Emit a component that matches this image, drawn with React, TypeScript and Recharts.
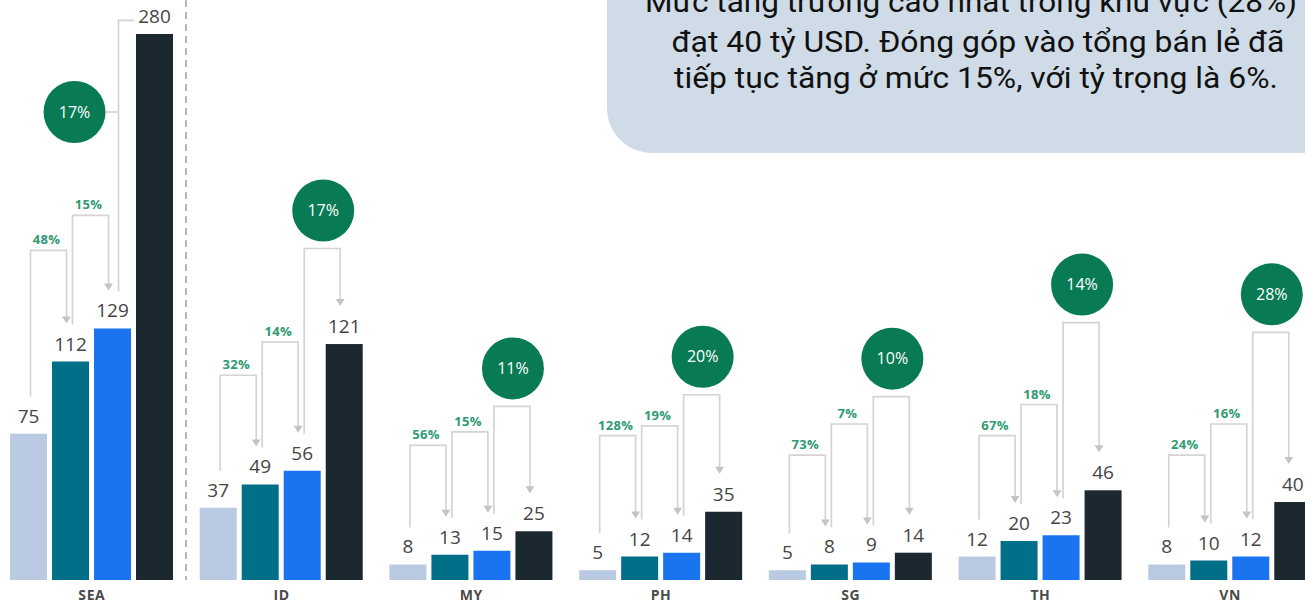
import React from 'react';
import { BarChart, Bar, XAxis, YAxis, LabelList } from 'recharts';

// ---- data ----
const regions = ['SEA', 'ID', 'MY', 'PH', 'SG', 'TH', 'VN'];
const s1 = [75, 37, 8, 5, 5, 12, 8];
const s2 = [112, 49, 13, 12, 8, 20, 10];
const s3 = [129, 56, 15, 14, 9, 23, 12];
const s4 = [280, 121, 25, 35, 14, 46, 40];
const growthA = ['48%', '32%', '56%', '128%', '73%', '67%', '24%'];
const growthB = ['15%', '14%', '15%', '19%', '7%', '18%', '16%'];
const cagr = ['17%', '17%', '11%', '20%', '10%', '14%', '28%'];
// connector heights, in value units
const levelA = [169, 105, 69, 74, 64, 74, 64];
const levelB = [187, 122, 76, 79, 80, 90, 80];
const levelC = [287, 170, 89, 95, 94, 132, 127];
const seaCircleLevel = 240;
const noteLines = [
  'Mức tăng trưởng cao nhất trong khu vực (28%)',
  'đạt 40 tỷ USD. Đóng góp vào tổng bán lẻ đã',
  'tiếp tục tăng ở mức 15%, với tỷ trọng là 6%.',
];

const data = regions.map((r, i) => ({ region: r, s1: s1[i], s2: s2[i], s3: s3[i], s4: s4[i] }));

const COLORS = ['#b9cae2', '#026f88', '#1a74f0', '#1c2830'];
const BAR_GAP = 5;
const CAT_GAP = 13;
const LINE = '#d4d4d4';
const ARROW = '#c4c4c4';
const GREEN_TXT = '#2f9a72';
const CIRCLE = '#087b54';
const FONT = "'Open Sans', 'DejaVu Sans', sans-serif";

function AnnotatedBar(props: any) {
  const { x, y, width, height, index, payload, fill } = props;
  const baseline = y + height;
  const k = height / payload.s4;
  const yOf = (v: number) => baseline - v * k;
  const pitch = width + BAR_GAP;
  const centers = [0, 1, 2, 3].map((j) => x + width / 2 - (3 - j) * pitch);
  const vals = [s1[index], s2[index], s3[index], s4[index]];
  const tops = vals.map(yOf);
  const els: any[] = [];
  els.push(<rect key="bar" x={x} y={y} width={width} height={height} fill={fill} />);

  const bracket = (from: number, to: number, level: number, label: string | null, key: string) => {
    const xl = centers[from] + 2;
    const xr = centers[to] - 4;
    const yTop = yOf(level);
    const yStart = tops[from] - 37;
    const yEnd = tops[to] - 38;
    els.push(
      <path key={key + 'p'} d={`M${xl},${yStart} V${yTop} H${xr} V${yEnd - 6}`} fill="none" stroke={LINE} strokeWidth={1.7} />
    );
    els.push(
      <path key={key + 'a'} d={`M${xr - 4.5},${yEnd - 7} L${xr + 4.5},${yEnd - 7} L${xr},${yEnd} Z`} fill={ARROW} />
    );
    if (label) {
      els.push(
        <text key={key + 't'} x={(xl + xr) / 2 - 2} y={yTop - 6} textAnchor="middle" fontFamily={FONT} fontWeight={700} fontSize={13} letterSpacing={0.3} fill={GREEN_TXT}>
          {label}
        </text>
      );
    }
    return { xl, xr, yTop };
  };

  bracket(0, 1, levelA[index], growthA[index], 'a');
  bracket(1, 2, levelB[index], growthB[index], 'b');

  const R = 31;
  const circleText = (cx: number, cy: number) => (
    <text key="ct" x={cx} y={cy + 5.5} textAnchor="middle" fontFamily={FONT} fontSize={16} fill="#ffffff">
      {cagr[index]}
    </text>
  );
  if (index === 0) {
    const xl = centers[2] + 6;
    const yTop = yOf(levelC[index]);
    const yStart = tops[2] - 37;
    const xr = centers[3] - 20;
    els.push(<path key="cp" d={`M${xl},${yStart} V${yTop} H${xr}`} fill="none" stroke={LINE} strokeWidth={1.7} />);
    const cx = centers[1] + 4;
    const cy = yOf(seaCircleLevel);
    els.push(<line key="cl" x1={cx + R} y1={cy} x2={xl} y2={cy} stroke={LINE} strokeWidth={1.7} />);
    els.push(<circle key="cc" cx={cx} cy={cy} r={R} fill={CIRCLE} />);
    els.push(circleText(cx, cy));
    // separator
    const sx = x + width + CAT_GAP;
    els.push(<line key="sep" x1={sx} y1={0} x2={sx} y2={baseline} stroke="#b8b8b8" strokeWidth={2} strokeDasharray="7 5" />);
  } else {
    const { yTop } = bracket(2, 3, levelC[index], null, 'c');
    const cx = (centers[2] + centers[3]) / 2;
    const cy = yTop - 38;
    els.push(<circle key="cc" cx={cx} cy={cy} r={R} fill={CIRCLE} />);
    els.push(circleText(cx, cy));
  }
  return <g>{els}</g>;
}

const CategoryTick = (props: any) => {
  const { x, y, payload } = props;
  return (
    <text x={x} y={y + 12} textAnchor="middle" fontFamily={FONT} fontWeight={700} fontSize={14} letterSpacing={0.6} fill="#4a4a4a">
      {payload.value}
    </text>
  );
};

const labelStyle = { fontFamily: FONT, fontSize: 19, fontWeight: 500, fill: '#454545' };

export default function App() {
  return (
    <div style={{ position: 'fixed', left: 0, top: 0, width: 1305, height: 604, overflow: 'hidden', background: '#ffffff' }}>
      <div style={{ position: 'absolute', left: -3, top: 0 }}>
        <BarChart
          width={1328}
          height={604}
          data={data}
          margin={{ top: 34, right: 0, bottom: 0, left: 0 }}
          barGap={BAR_GAP}
          barCategoryGap={CAT_GAP}
        >
          <XAxis dataKey="region" height={24} axisLine={false} tickLine={false} tick={<CategoryTick />} interval={0} />
          <YAxis hide domain={[0, 280]} />
          <Bar dataKey="s1" fill={COLORS[0]} isAnimationActive={false}>
            <LabelList dataKey="s1" position="top" offset={11} style={labelStyle} />
          </Bar>
          <Bar dataKey="s2" fill={COLORS[1]} isAnimationActive={false}>
            <LabelList dataKey="s2" position="top" offset={11} style={labelStyle} />
          </Bar>
          <Bar dataKey="s3" fill={COLORS[2]} isAnimationActive={false}>
            <LabelList dataKey="s3" position="top" offset={11} style={labelStyle} />
          </Bar>
          <Bar dataKey="s4" fill={COLORS[3]} isAnimationActive={false} shape={<AnnotatedBar />}>
            <LabelList dataKey="s4" position="top" offset={11} style={labelStyle} />
          </Bar>
        </BarChart>
      </div>
      <svg style={{ position: 'absolute', left: 0, top: 0 }} width={1305} height={604} pointerEvents="none">
        <path d="M607,-10 H1320 V153 H652 A45,45 0 0 1 607,108 Z" fill="#cfdbe6" />
        <text x={971} y={12} textAnchor="middle" fontFamily="Roboto" fontSize={30} fill="#111" textLength={652} lengthAdjust="spacingAndGlyphs">
          {noteLines[0]}
        </text>
        <text x={978} y={52} textAnchor="middle" fontFamily="Roboto" fontSize={30} fill="#111" textLength={613} lengthAdjust="spacingAndGlyphs">
          {noteLines[1]}
        </text>
        <text x={976} y={88} textAnchor="middle" fontFamily="Roboto" fontSize={30} fill="#111" textLength={604} lengthAdjust="spacingAndGlyphs">
          {noteLines[2]}
        </text>
      </svg>
    </div>
  );
}
